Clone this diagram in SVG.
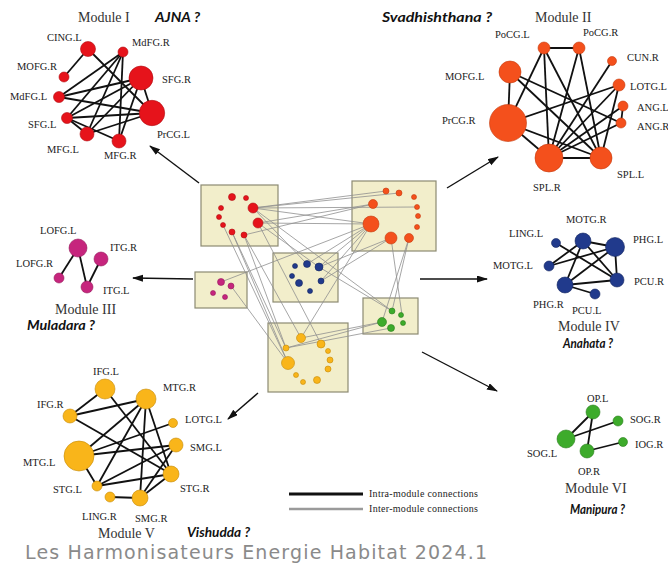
<svg xmlns="http://www.w3.org/2000/svg" width="668" height="564" viewBox="0 0 668 564">
<defs>
<marker id="ah" markerUnits="userSpaceOnUse" markerWidth="11" markerHeight="8" refX="10" refY="3.5" orient="auto"><path d="M0,0 L11,3.5 L0,7 z" fill="#111"/></marker>
</defs>
<style>
.lbl{font-family:"Liberation Serif",serif;font-size:10.5px;fill:#222}
.mod{font-family:"Liberation Serif",serif;font-size:14px;fill:#333}
.chk{font-family:Lato,"Liberation Sans",sans-serif;font-weight:bold;font-style:italic;fill:#111}
.e{stroke:#111;stroke-width:1.8;fill:none}
.g{stroke:#8f8f8f;stroke-width:0.8;fill:none}
.ar{stroke:#111;stroke-width:1.4;fill:none;marker-end:url(#ah)}
.box{fill:#f2eecb;stroke:#8c8a72;stroke-width:1.2}
.red{fill:#e6131b;stroke:#b00d12;stroke-width:0.6}
.org{fill:#f4501c;stroke:#c43a0e;stroke-width:0.6}
.pnk{fill:#c6257d;stroke:#951b5d;stroke-width:0.6}
.blu{fill:#213a8c;stroke:#142660;stroke-width:0.6}
.yel{fill:#f9b51a;stroke:#c48a06;stroke-width:0.6}
.grn{fill:#3dab2b;stroke:#2a7d1c;stroke-width:0.6}
.leg{font-family:"Liberation Serif",serif;font-size:10px;fill:#222}
</style>
<rect width="668" height="564" fill="#fff"/>

<g id="boxes">
<rect class="box" x="201" y="185" width="77" height="61"/>
<rect class="box" x="352" y="181" width="84" height="70"/>
<rect class="box" x="273" y="253" width="65" height="49"/>
<rect class="box" x="195" y="272" width="52" height="36"/>
<rect class="box" x="363" y="298" width="55" height="36"/>
<rect class="box" x="268" y="323" width="80" height="69"/>
</g>

<g id="connectors">
<g>
<line class="g" x1="253" y1="208" x2="386" y2="191"/>
<line class="g" x1="253" y1="208" x2="399" y2="193"/>
<line class="g" x1="253" y1="208" x2="417" y2="207"/>
<line class="g" x1="253" y1="208" x2="371" y2="224"/>
<line class="g" x1="258" y1="223" x2="373" y2="204"/>
<line class="g" x1="258" y1="223" x2="371" y2="224"/>
<line class="g" x1="253" y1="208" x2="307" y2="264"/>
<line class="g" x1="258" y1="223" x2="319" y2="267"/>
<line class="g" x1="253" y1="208" x2="392" y2="311"/>
<line class="g" x1="232" y1="232" x2="286" y2="348"/>
<line class="g" x1="232" y1="232" x2="288" y2="363"/>
<line class="g" x1="244" y1="235" x2="301" y2="338"/>
<line class="g" x1="244" y1="235" x2="286" y2="348"/>
<line class="g" x1="244" y1="235" x2="373" y2="204"/>
<line class="g" x1="223" y1="225" x2="288" y2="363"/>
<line class="g" x1="258" y1="223" x2="321" y2="344"/>
<line class="g" x1="371" y1="224" x2="221" y2="282"/>
<line class="g" x1="371" y1="224" x2="307" y2="264"/>
<line class="g" x1="371" y1="224" x2="319" y2="267"/>
<line class="g" x1="371" y1="224" x2="321" y2="281"/>
<line class="g" x1="391" y1="238" x2="319" y2="267"/>
<line class="g" x1="391" y1="238" x2="321" y2="281"/>
<line class="g" x1="371" y1="224" x2="301" y2="338"/>
<line class="g" x1="391" y1="238" x2="402" y2="315"/>
<line class="g" x1="409" y1="238" x2="392" y2="311"/>
<line class="g" x1="409" y1="238" x2="382" y2="322"/>
<line class="g" x1="231" y1="286" x2="288" y2="363"/>
<line class="g" x1="319" y1="267" x2="392" y2="311"/>
<line class="g" x1="382" y1="322" x2="301" y2="338"/>
<line class="g" x1="382" y1="322" x2="286" y2="348"/>
<line class="g" x1="391" y1="328" x2="286" y2="348"/>
</g>
<g>
<line class="e" x1="88" y1="49" x2="64" y2="77"/>
<line class="e" x1="88" y1="49" x2="152" y2="113"/>
<line class="e" x1="123" y1="52" x2="59" y2="97"/>
<line class="e" x1="123" y1="52" x2="67" y2="118"/>
<line class="e" x1="123" y1="52" x2="87" y2="134"/>
<line class="e" x1="123" y1="52" x2="119" y2="141"/>
<line class="e" x1="141" y1="78" x2="59" y2="97"/>
<line class="e" x1="141" y1="78" x2="67" y2="118"/>
<line class="e" x1="141" y1="78" x2="87" y2="134"/>
<line class="e" x1="141" y1="78" x2="119" y2="141"/>
<line class="e" x1="141" y1="78" x2="152" y2="113"/>
<line class="e" x1="152" y1="113" x2="67" y2="118"/>
<line class="e" x1="152" y1="113" x2="59" y2="97"/>
<line class="e" x1="152" y1="113" x2="87" y2="134"/>
<line class="e" x1="67" y1="118" x2="87" y2="134"/>
<line class="e" x1="67" y1="118" x2="119" y2="141"/>
</g>
<g>
<line class="e" x1="544" y1="48" x2="579" y2="48"/>
<line class="e" x1="510" y1="72" x2="508" y2="123"/>
<line class="e" x1="508" y1="123" x2="549" y2="158"/>
<line class="e" x1="508" y1="123" x2="601" y2="158"/>
<line class="e" x1="549" y1="158" x2="601" y2="158"/>
<line class="e" x1="544" y1="48" x2="508" y2="123"/>
<line class="e" x1="544" y1="48" x2="549" y2="158"/>
<line class="e" x1="544" y1="48" x2="601" y2="158"/>
<line class="e" x1="579" y1="48" x2="549" y2="158"/>
<line class="e" x1="579" y1="48" x2="601" y2="158"/>
<line class="e" x1="612" y1="61" x2="549" y2="158"/>
<line class="e" x1="619" y1="85" x2="508" y2="123"/>
<line class="e" x1="619" y1="85" x2="549" y2="158"/>
<line class="e" x1="619" y1="85" x2="601" y2="158"/>
<line class="e" x1="623" y1="106" x2="621" y2="123"/>
<line class="e" x1="623" y1="106" x2="549" y2="158"/>
<line class="e" x1="621" y1="123" x2="549" y2="158"/>
<line class="e" x1="510" y1="72" x2="621" y2="123"/>
<line class="e" x1="510" y1="72" x2="601" y2="158"/>
</g>
<g>
<line class="e" x1="78" y1="248" x2="59" y2="278"/>
<line class="e" x1="78" y1="248" x2="87" y2="287"/>
<line class="e" x1="87" y1="287" x2="101" y2="259"/>
</g>
<g>
<line class="e" x1="583" y1="241" x2="615" y2="247"/>
<line class="e" x1="583" y1="241" x2="549" y2="266"/>
<line class="e" x1="583" y1="241" x2="565" y2="285"/>
<line class="e" x1="583" y1="241" x2="617" y2="280"/>
<line class="e" x1="556" y1="243" x2="617" y2="280"/>
<line class="e" x1="615" y1="247" x2="549" y2="266"/>
<line class="e" x1="615" y1="247" x2="565" y2="285"/>
<line class="e" x1="615" y1="247" x2="617" y2="280"/>
<line class="e" x1="565" y1="285" x2="617" y2="280"/>
<line class="e" x1="565" y1="285" x2="595" y2="294"/>
</g>
<g>
<line class="e" x1="105" y1="389" x2="70" y2="416"/>
<line class="e" x1="70" y1="416" x2="146" y2="399"/>
<line class="e" x1="105" y1="389" x2="171" y2="474"/>
<line class="e" x1="70" y1="416" x2="171" y2="474"/>
<line class="e" x1="146" y1="399" x2="79" y2="456"/>
<line class="e" x1="146" y1="399" x2="97" y2="486"/>
<line class="e" x1="146" y1="399" x2="171" y2="474"/>
<line class="e" x1="146" y1="399" x2="140" y2="498"/>
<line class="e" x1="79" y1="456" x2="173" y2="423"/>
<line class="e" x1="79" y1="456" x2="176" y2="445"/>
<line class="e" x1="79" y1="456" x2="97" y2="486"/>
<line class="e" x1="97" y1="486" x2="176" y2="445"/>
<line class="e" x1="97" y1="486" x2="171" y2="474"/>
<line class="e" x1="140" y1="498" x2="176" y2="445"/>
<line class="e" x1="140" y1="498" x2="171" y2="474"/>
<line class="e" x1="110" y1="497" x2="140" y2="498"/>
</g>
<g>
<line class="e" x1="593" y1="412" x2="566" y2="439"/>
<line class="e" x1="593" y1="412" x2="587" y2="451"/>
<line class="e" x1="618" y1="421" x2="566" y2="439"/>
<line class="e" x1="623" y1="442" x2="587" y2="451"/>
</g>
<g>
<line class="ar" x1="199" y1="183" x2="150" y2="146"/>
<line class="ar" x1="447" y1="188" x2="498" y2="157"/>
<line class="ar" x1="193" y1="279" x2="133" y2="278"/>
<line class="ar" x1="420" y1="279" x2="487" y2="279"/>
<line class="ar" x1="422" y1="352" x2="497" y2="391"/>
<line class="ar" x1="258" y1="393" x2="228" y2="419"/>
</g>
</g>

<g id="center-red">
<circle class="red" cx="232" cy="197" r="3.5"/><circle class="red" cx="246" cy="198" r="2.5"/><circle class="red" cx="253" cy="208" r="5"/><circle class="red" cx="221" cy="208" r="2.5"/><circle class="red" cx="219" cy="217" r="2.5"/><circle class="red" cx="258" cy="223" r="5"/><circle class="red" cx="223" cy="225" r="2.5"/><circle class="red" cx="232" cy="232" r="3"/><circle class="red" cx="244" cy="235" r="3"/>
</g>
<g id="center-orange">
<circle class="org" cx="386" cy="191" r="3"/><circle class="org" cx="399" cy="193" r="3"/><circle class="org" cx="414" cy="197" r="2.5"/><circle class="org" cx="373" cy="204" r="4.5"/><circle class="org" cx="417" cy="207" r="2.5"/><circle class="org" cx="418" cy="216" r="2.5"/><circle class="org" cx="371" cy="224" r="8"/><circle class="org" cx="417" cy="227" r="2.5"/><circle class="org" cx="391" cy="238" r="6"/><circle class="org" cx="409" cy="238" r="4.5"/>
</g>
<g id="center-blue">
<circle class="blu" cx="295" cy="266" r="2.5"/><circle class="blu" cx="307" cy="264" r="3.5"/><circle class="blu" cx="319" cy="267" r="4"/><circle class="blu" cx="292" cy="276" r="2.5"/><circle class="blu" cx="299" cy="283" r="3.5"/><circle class="blu" cx="321" cy="281" r="3"/><circle class="blu" cx="310" cy="291" r="2.5"/>
</g>
<g id="center-pink">
<circle class="pnk" cx="221" cy="282" r="3.5"/><circle class="pnk" cx="231" cy="286" r="3"/><circle class="pnk" cx="213" cy="293" r="2.5"/><circle class="pnk" cx="225" cy="297" r="2.5"/>
</g>
<g id="center-green">
<circle class="grn" cx="392" cy="311" r="3"/><circle class="grn" cx="401" cy="315" r="2.5"/><circle class="grn" cx="382" cy="322" r="4.5"/><circle class="grn" cx="403" cy="323" r="2.5"/><circle class="grn" cx="391" cy="328" r="3.5"/>
</g>
<g id="center-yellow">
<circle class="yel" cx="301" cy="338" r="4.5"/><circle class="yel" cx="321" cy="344" r="4"/><circle class="yel" cx="286" cy="348" r="3"/><circle class="yel" cx="328" cy="351" r="2.5"/><circle class="yel" cx="330" cy="360" r="3"/><circle class="yel" cx="288" cy="363" r="6.5"/><circle class="yel" cx="328" cy="369" r="3"/><circle class="yel" cx="296" cy="375" r="2.5"/><circle class="yel" cx="317" cy="380" r="3.5"/><circle class="yel" cx="303" cy="382" r="2.5"/>
</g>

<g id="module1">
<text class="mod" x="78" y="22">Module I</text>
<text class="chk" x="155" y="22" font-size="14" textLength="45" lengthAdjust="spacingAndGlyphs">AJNA ?</text>
<g id="m1-cing-l"><circle class="red" cx="88" cy="49" r="7.5"/><text class="lbl" x="47" y="41">CING.L</text></g>
<g id="m1-mdfg-r"><circle class="red" cx="123" cy="52" r="5"/><text class="lbl" x="132" y="46">MdFG.R</text></g>
<g id="m1-mofg-r"><circle class="red" cx="64" cy="77" r="5"/><text class="lbl" x="17" y="70">MOFG.R</text></g>
<g id="m1-sfg-r"><circle class="red" cx="141" cy="78" r="12"/><text class="lbl" x="162" y="83">SFG.R</text></g>
<g id="m1-mdfg-l"><circle class="red" cx="59" cy="97" r="5.5"/><text class="lbl" x="10" y="100">MdFG.L</text></g>
<g id="m1-prcg-l"><circle class="red" cx="152" cy="113" r="12.7"/><text class="lbl" x="157" y="138">PrCG.L</text></g>
<g id="m1-sfg-l"><circle class="red" cx="67" cy="118" r="5.5"/><text class="lbl" x="28" y="128">SFG.L</text></g>
<g id="m1-mfg-l"><circle class="red" cx="87" cy="134" r="7"/><text class="lbl" x="47" y="153">MFG.L</text></g>
<g id="m1-mfg-r"><circle class="red" cx="119" cy="141" r="7"/><text class="lbl" x="104" y="159">MFG.R</text></g>
</g>

<g id="module2">
<text class="chk" x="382" y="22" font-size="14" textLength="110" lengthAdjust="spacingAndGlyphs">Svadhishthana  ?</text>
<text class="mod" x="535" y="22">Module II</text>
<g id="m2-pocg-l"><circle class="org" cx="544" cy="48" r="6"/><text class="lbl" x="495" y="38">PoCG.L</text></g>
<g id="m2-pocg-r"><circle class="org" cx="579" cy="48" r="6"/><text class="lbl" x="583" y="36">PoCG.R</text></g>
<g id="m2-cun-r"><circle class="org" cx="612" cy="61" r="4.5"/><text class="lbl" x="627" y="61">CUN.R</text></g>
<g id="m2-mofg-l"><circle class="org" cx="510" cy="72" r="11"/><text class="lbl" x="445" y="80">MOFG.L</text></g>
<g id="m2-lotg-l"><circle class="org" cx="619" cy="85" r="6"/><text class="lbl" x="630" y="90">LOTG.L</text></g>
<g id="m2-ang-l"><circle class="org" cx="623" cy="106" r="5"/><text class="lbl" x="637" y="111">ANG.L</text></g>
<g id="m2-prcg-r"><circle class="org" cx="508" cy="123" r="18.5"/><text class="lbl" x="442" y="124">PrCG.R</text></g>
<g id="m2-ang-r"><circle class="org" cx="621" cy="123" r="5"/><text class="lbl" x="637" y="130">ANG.R</text></g>
<g id="m2-spl-r"><circle class="org" cx="549" cy="158" r="14"/><text class="lbl" x="533" y="191">SPL.R</text></g>
<g id="m2-spl-l"><circle class="org" cx="601" cy="158" r="11"/><text class="lbl" x="617" y="178">SPL.L</text></g>
</g>

<g id="module3">
<g id="m3-lofg-l"><circle class="pnk" cx="78" cy="248" r="9"/><text class="lbl" x="40" y="234">LOFG.L</text></g>
<g id="m3-itg-r"><circle class="pnk" cx="101" cy="259" r="7"/><text class="lbl" x="110" y="251">ITG.R</text></g>
<g id="m3-lofg-r"><circle class="pnk" cx="59" cy="278" r="5"/><text class="lbl" x="16" y="267">LOFG.R</text></g>
<g id="m3-itg-l"><circle class="pnk" cx="87" cy="287" r="6"/><text class="lbl" x="103" y="294">ITG.L</text></g>
<text class="mod" x="55" y="314">Module III</text>
<text class="chk" x="27" y="330" font-size="13.5" textLength="68" lengthAdjust="spacingAndGlyphs">Muladara ?</text>
</g>

<g id="module4">
<g id="m4-motg-r"><circle class="blu" cx="583" cy="241" r="8"/><text class="lbl" x="566" y="223">MOTG.R</text></g>
<g id="m4-ling-l"><circle class="blu" cx="556" cy="243" r="4.5"/><text class="lbl" x="509" y="237">LING.L</text></g>
<g id="m4-phg-l"><circle class="blu" cx="615" cy="247" r="9.5"/><text class="lbl" x="633" y="243">PHG.L</text></g>
<g id="m4-motg-l"><circle class="blu" cx="549" cy="266" r="5"/><text class="lbl" x="493" y="269">MOTG.L</text></g>
<g id="m4-pcu-r"><circle class="blu" cx="617" cy="280" r="7"/><text class="lbl" x="634" y="285">PCU.R</text></g>
<g id="m4-phg-r"><circle class="blu" cx="565" cy="285" r="8"/><text class="lbl" x="533" y="308">PHG.R</text></g>
<g id="m4-pcu-l"><circle class="blu" cx="595" cy="294" r="5"/><text class="lbl" x="572" y="314">PCU.L</text></g>
<text class="mod" x="558" y="331">Module IV</text>
<text class="chk" x="563" y="348" font-size="12.5" textLength="50" lengthAdjust="spacingAndGlyphs">Anahata ?</text>
</g>

<g id="module5">
<g id="m5-ifg-l"><circle class="yel" cx="105" cy="389" r="10"/><text class="lbl" x="93" y="375">IFG.L</text></g>
<g id="m5-mtg-r"><circle class="yel" cx="146" cy="399" r="10"/><text class="lbl" x="163" y="391">MTG.R</text></g>
<g id="m5-ifg-r"><circle class="yel" cx="70" cy="416" r="7"/><text class="lbl" x="37" y="408">IFG.R</text></g>
<g id="m5-lotg-l"><circle class="yel" cx="173" cy="423" r="4.5"/><text class="lbl" x="185" y="423">LOTG.L</text></g>
<g id="m5-smg-l"><circle class="yel" cx="176" cy="445" r="7"/><text class="lbl" x="190" y="451">SMG.L</text></g>
<g id="m5-mtg-l"><circle class="yel" cx="79" cy="456" r="15"/><text class="lbl" x="23" y="466">MTG.L</text></g>
<g id="m5-stg-r"><circle class="yel" cx="171" cy="474" r="8"/><text class="lbl" x="180" y="492">STG.R</text></g>
<g id="m5-stg-l"><circle class="yel" cx="97" cy="486" r="5"/><text class="lbl" x="53" y="493">STG.L</text></g>
<g id="m5-ling-r"><circle class="yel" cx="110" cy="497" r="5"/><text class="lbl" x="82" y="520">LING.R</text></g>
<g id="m5-smg-r"><circle class="yel" cx="140" cy="498" r="8"/><text class="lbl" x="135" y="522">SMG.R</text></g>
<text class="mod" x="98" y="538">Module V</text>
<text class="chk" x="187" y="537" font-size="13" textLength="63" lengthAdjust="spacingAndGlyphs">Vishudda ?</text>
</g>

<g id="module6">
<g id="m6-op-l"><circle class="grn" cx="593" cy="412" r="7"/><text class="lbl" x="587" y="402">OP.L</text></g>
<g id="m6-sog-r"><circle class="grn" cx="618" cy="421" r="5"/><text class="lbl" x="630" y="423">SOG.R</text></g>
<g id="m6-iog-r"><circle class="grn" cx="623" cy="442" r="4.5"/><text class="lbl" x="635" y="448">IOG.R</text></g>
<g id="m6-sog-l"><circle class="grn" cx="566" cy="439" r="9"/><text class="lbl" x="527" y="457">SOG.L</text></g>
<g id="m6-op-r"><circle class="grn" cx="587" cy="451" r="7"/><text class="lbl" x="578" y="475">OP.R</text></g>
<text class="mod" x="565" y="493">Module VI</text>
<text class="chk" x="570" y="514" font-size="12.5" textLength="55" lengthAdjust="spacingAndGlyphs">Manipura ?</text>
</g>

<g id="legend">
<line x1="289" y1="494" x2="363" y2="494" stroke="#111" stroke-width="3"/>
<text class="leg" x="369" y="497" textLength="109">Intra-module connections</text>
<line x1="289" y1="509" x2="363" y2="509" stroke="#9a9a9a" stroke-width="2.5"/>
<text class="leg" x="369" y="512" textLength="109">Inter-module connections</text>
</g>

<g id="footer">
<text x="25" y="559" font-family="'DejaVu Sans',sans-serif" font-size="19" fill="#8a8a8a" textLength="462">Les Harmonisateurs Energie Habitat  2024.1</text>
</g>
</svg>
